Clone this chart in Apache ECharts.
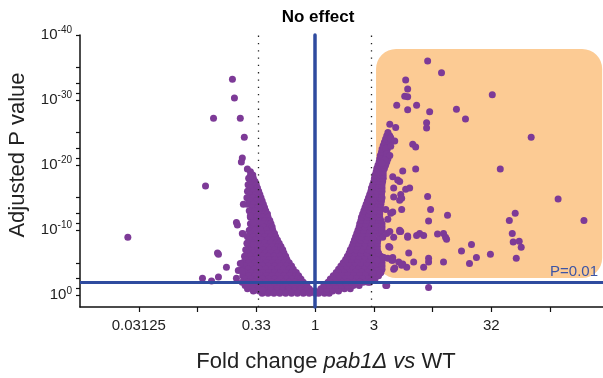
<!DOCTYPE html>
<html>
<head>
<meta charset="utf-8">
<script src="https://cdn.jsdelivr.net/npm/echarts@6/dist/echarts.min.js"></script>
<style>
html,body{margin:0;padding:0;background:#fff;}
#chart{width:603px;height:378px;}
</style>
</head>
<body>
<div id="chart"></div>
<script>
// x = log10(fold change pab1Δ vs WT), y = -log10(adjusted P value)
const leftArm = [
[-0.55,19],[-0.545,18.5],[-0.53,18.5],
[-0.565,18],[-0.525,18],[-0.55,17.5],[-0.51,17.5],
[-0.57,17],[-0.535,17],[-0.50,17],[-0.55,16.5],[-0.49,16.5],
[-0.575,16],[-0.525,16],[-0.48,16],[-0.555,15.5],[-0.505,15.5],[-0.47,15.5],
[-0.58,15],[-0.53,15],[-0.48,15],[-0.46,15],[-0.55,14.5],[-0.50,14.5],[-0.45,14.5],
[-0.575,14],[-0.525,14],[-0.475,14],[-0.44,14],[-0.535,13.5],[-0.485,13.5],[-0.43,13.5],
[-0.56,13],[-0.51,13],[-0.46,13],[-0.42,13],[-0.525,12.5],[-0.475,12.5],[-0.43,12.5],[-0.405,12.5],
[-0.55,12],[-0.50,12],[-0.45,12],[-0.40,12],[-0.525,11.5],[-0.475,11.5],[-0.425,11.5],[-0.385,11.5],
[-0.55,11],[-0.50,11],[-0.45,11],[-0.40,11],[-0.375,11],[-0.535,10.5],[-0.485,10.5],[-0.435,10.5],[-0.385,10.5],[-0.365,10.5],
[-0.56,10],[-0.51,10],[-0.46,10],[-0.41,10],[-0.36,10],[-0.55,9.5],[-0.50,9.5],[-0.45,9.5],[-0.40,9.5],[-0.345,9.5],
[-0.575,9],[-0.525,9],[-0.475,9],[-0.425,9],[-0.375,9],[-0.335,9],
[-0.555,8.5],[-0.505,8.5],[-0.455,8.5],[-0.405,8.5],[-0.355,8.5],[-0.32,8.5],
[-0.58,8],[-0.53,8],[-0.48,8],[-0.43,8],[-0.38,8],[-0.33,8],[-0.305,8],
[-0.565,7.5],[-0.515,7.5],[-0.465,7.5],[-0.415,7.5],[-0.365,7.5],[-0.315,7.5],[-0.29,7.5],
[-0.59,7],[-0.54,7],[-0.49,7],[-0.44,7],[-0.39,7],[-0.34,7],[-0.29,7],[-0.275,7],
[-0.575,6.5],[-0.525,6.5],[-0.475,6.5],[-0.425,6.5],[-0.375,6.5],[-0.325,6.5],[-0.265,6.5],
[-0.60,6],[-0.55,6],[-0.50,6],[-0.45,6],[-0.40,6],[-0.35,6],[-0.30,6],[-0.25,6],
[-0.59,5.5],[-0.54,5.5],[-0.49,5.5],[-0.44,5.5],[-0.39,5.5],[-0.34,5.5],[-0.29,5.5],[-0.24,5.5],
[-0.615,5],[-0.565,5],[-0.515,5],[-0.465,5],[-0.415,5],[-0.365,5],[-0.315,5],[-0.265,5],[-0.22,5],
[-0.595,4.5],[-0.545,4.5],[-0.495,4.5],[-0.445,4.5],[-0.395,4.5],[-0.345,4.5],[-0.295,4.5],[-0.245,4.5],[-0.20,4.5],
[-0.62,4],[-0.57,4],[-0.52,4],[-0.47,4],[-0.42,4],[-0.37,4],[-0.32,4],[-0.27,4],[-0.22,4],[-0.185,4],
[-0.595,3.5],[-0.545,3.5],[-0.495,3.5],[-0.445,3.5],[-0.395,3.5],[-0.345,3.5],[-0.295,3.5],[-0.245,3.5],[-0.195,3.5],[-0.16,3.5],
[-0.615,3],[-0.565,3],[-0.515,3],[-0.465,3],[-0.415,3],[-0.365,3],[-0.315,3],[-0.265,3],[-0.215,3],[-0.165,3],[-0.14,3],
[-0.595,2.5],[-0.545,2.5],[-0.495,2.5],[-0.445,2.5],[-0.395,2.5],[-0.345,2.5],[-0.295,2.5],[-0.245,2.5],[-0.195,2.5],[-0.145,2.5],[-0.12,2.5],
[-0.62,2],[-0.57,2],[-0.52,2],[-0.47,2],[-0.42,2],[-0.37,2],[-0.32,2],[-0.27,2],[-0.22,2],[-0.17,2],[-0.12,2],[-0.10,2],
[-0.595,1.5],[-0.545,1.5],[-0.495,1.5],[-0.445,1.5],[-0.395,1.5],[-0.345,1.5],[-0.295,1.5],[-0.245,1.5],[-0.195,1.5],[-0.145,1.5],[-0.095,1.5],[-0.07,1.5],
[-0.575,1],[-0.525,1],[-0.475,1],[-0.425,1],[-0.375,1],[-0.325,1],[-0.275,1],[-0.225,1],[-0.175,1],[-0.125,1],[-0.075,1],[-0.05,1],
[-0.525,0.65],[-0.475,0.65],[-0.425,0.65],[-0.375,0.65],[-0.325,0.65],[-0.275,0.65],[-0.225,0.65],[-0.175,0.65],[-0.125,0.65],[-0.075,0.65],[-0.03,0.65],
[-0.45,0.3],[-0.40,0.3],[-0.35,0.3],[-0.30,0.3],[-0.25,0.3],[-0.20,0.3],[-0.15,0.3],[-0.10,0.3],[-0.05,0.3],[0,0.3]
];
const rightArm = [
[0.03,0.3],[0.08,0.3],[0.12,0.3],
[0.0,0.65],[0.05,0.65],[0.10,0.65],[0.15,0.65],[0.20,0.65],
[0.05,1],[0.10,1],[0.15,1],[0.20,1],[0.25,1],[0.30,1],
[0.075,1.5],[0.125,1.5],[0.175,1.5],[0.225,1.5],[0.275,1.5],[0.325,1.5],[0.375,1.5],
[0.11,2],[0.16,2],[0.21,2],[0.26,2],[0.31,2],[0.36,2],[0.41,2],[0.45,2],
[0.13,2.5],[0.18,2.5],[0.23,2.5],[0.28,2.5],[0.33,2.5],[0.38,2.5],[0.43,2.5],[0.48,2.5],[0.51,2.5],
[0.155,3],[0.205,3],[0.255,3],[0.305,3],[0.355,3],[0.405,3],[0.455,3],[0.505,3],[0.54,3],
[0.18,3.5],[0.23,3.5],[0.28,3.5],[0.33,3.5],[0.38,3.5],[0.43,3.5],[0.48,3.5],[0.53,3.5],[0.56,3.5],
[0.20,4],[0.25,4],[0.30,4],[0.35,4],[0.40,4],[0.45,4],[0.50,4],[0.55,4],[0.57,4],
[0.22,4.5],[0.27,4.5],[0.32,4.5],[0.37,4.5],[0.42,4.5],[0.47,4.5],[0.52,4.5],[0.57,4.5],
[0.24,5],[0.29,5],[0.34,5],[0.39,5],[0.44,5],[0.49,5],[0.54,5],[0.57,5],
[0.26,5.5],[0.31,5.5],[0.36,5.5],[0.41,5.5],[0.46,5.5],[0.51,5.5],[0.56,5.5],
[0.275,6],[0.325,6],[0.375,6],[0.425,6],[0.475,6],[0.525,6],[0.56,6],
[0.29,6.5],[0.34,6.5],[0.39,6.5],[0.44,6.5],[0.49,6.5],[0.54,6.5],
[0.30,7],[0.35,7],[0.40,7],[0.45,7],[0.50,7],[0.53,7],
[0.315,7.5],[0.365,7.5],[0.415,7.5],[0.465,7.5],[0.515,7.5],[0.53,7.5],
[0.325,8],[0.375,8],[0.425,8],[0.475,8],[0.53,8],
[0.335,8.5],[0.385,8.5],[0.435,8.5],[0.485,8.5],[0.535,8.5],
[0.345,9],[0.395,9],[0.445,9],[0.495,9],[0.55,9],
[0.355,9.5],[0.405,9.5],[0.455,9.5],[0.505,9.5],[0.555,9.5],
[0.365,10],[0.415,10],[0.465,10],[0.515,10],[0.57,10],
[0.375,10.5],[0.425,10.5],[0.475,10.5],[0.525,10.5],[0.57,10.5],
[0.38,11],[0.43,11],[0.48,11],[0.53,11],[0.57,11],
[0.39,11.5],[0.44,11.5],[0.49,11.5],[0.54,11.5],[0.56,11.5],
[0.395,12],[0.445,12],[0.495,12],[0.55,12],
[0.405,12.5],[0.455,12.5],[0.505,12.5],[0.55,12.5],
[0.415,13],[0.465,13],[0.515,13],[0.55,13],
[0.425,13.5],[0.475,13.5],[0.525,13.5],[0.555,13.5],
[0.435,14],[0.485,14],[0.535,14],[0.56,14],
[0.445,14.5],[0.495,14.5],[0.545,14.5],[0.565,14.5],
[0.455,15],[0.505,15],[0.555,15],[0.57,15],
[0.465,15.5],[0.515,15.5],[0.565,15.5],
[0.475,16],[0.525,16],[0.57,16],
[0.48,16.5],[0.53,16.5],[0.57,16.5],
[0.49,17],[0.54,17],[0.57,17],
[0.50,17.5],[0.545,17.5],[0.575,17.5],
[0.505,18],[0.555,18],[0.58,18],
[0.51,18.5],[0.555,18.5],[0.58,18.5],
[0.52,19],[0.56,19],[0.58,19],
[0.525,19.5],[0.57,19.5],[0.59,19.5],
[0.535,20],[0.585,20],[0.60,20],
[0.545,20.5],[0.59,20.5],[0.61,20.5],
[0.55,21],[0.60,21],[0.62,21],
[0.555,21.5],[0.60,21.5],
[0.565,22],[0.61,22],
[0.57,22.5],[0.615,22.5],
[0.58,23],[0.625,23],
[0.59,23.5],[0.63,23.5],
[0.60,24],[0.64,24],
[0.61,24.5],[0.635,24.5],
[0.62,25]
];
const leftOutliers = [
[-1.593,8.9],[-0.932,16.8],[-0.703,33.2],[-0.686,30.3],[-0.864,27.2],[-0.636,27.2],
[-0.602,24.3],[-0.619,21.1],[-0.627,20.5],[-0.576,19.4],[-0.551,18.3],[-0.61,14.0],
[-0.551,12.2],[-0.525,11.2],[-0.669,11.2],[-0.661,10.8],[-0.619,9.5],[-0.61,9.4],
[-0.568,8.0],[-0.525,7.8],[-0.83,6.5],[-0.822,6.3],[-0.636,4.9],[-0.754,4.3],
[-0.653,3.8],[-0.619,3.7],[-0.958,2.6],[-0.881,2.2],[-0.822,2.8],[-0.669,2.6],
[-0.593,1.8],[-0.576,1.4],[-0.449,0.8]
];
const rightOutliers = [
[0.958,36.0],[1.076,34.2],[0.771,33.1],[0.788,31.7],[0.763,30.6],[0.788,30.5],
[0.695,29.2],[0.864,29.2],[0.788,28.5],[0.975,28.2],[1.203,28.6],[1.280,27.1],
[0.949,26.5],[0.949,25.7],[0.636,26.3],[0.686,25.8],[0.644,24.2],[0.678,23.7],
[0.831,23.2],[0.856,22.8],[0.602,22.6],[0.644,22.9],[0.610,21.8],[0.636,21.5],
[0.593,20.8],[0.568,20.3],
[1.508,30.8],[1.839,24.3],[1.576,19.4],[2.068,14.8],[2.288,11.5],[1.703,12.6],
[1.653,11.5],[1.678,9.5],[1.686,8.2],[1.737,8.3],[1.754,7.4],[1.712,5.7],
[1.331,7.8],[1.246,6.8],[1.373,5.8],[1.314,4.9],[1.492,6.3],[1.093,5.1],
[1.127,12.3],[0.983,13.2],[0.966,11.4],[0.958,15.2],[1.042,9.4],[1.093,9.5],
[1.110,8.9],[1.119,8.6],[0.890,9.5],[0.864,9.2],[0.924,9.2],[0.788,9.1],
[0.729,9.8],[0.966,5.7],[0.966,5.1],[0.924,4.3],[0.839,5.1],[0.797,6.5],
[0.780,4.3],[0.746,4.8],[0.712,5.1],[0.661,5.8],[0.653,5.4],[0.669,4.0],
[0.585,5.8],[0.602,1.5],[0.966,1.2],[0.856,19.4],[0.746,19.1],[0.661,18.2],
[0.720,17.5],[0.771,16.3],[0.669,16.5],[0.729,15.5],[0.669,15.1],[0.737,14.9],
[0.737,13.2],[0.661,12.8],[0.602,13.2],[0.619,11.7],[0.720,9.8],[0.669,8.9],
[0.576,8.9],[0.627,7.5],[0.610,9.5],[0.636,9.8],[0.788,8.9],[0.805,16.5],
[0.703,17.7],[0.720,14.6],[0.644,12.6],[0.720,10.0],[0.636,7.4],[0.576,5.8],
[0.619,5.7],[0.661,5.4],[0.737,4.6],[0.678,4.2],[0.610,1.5],[0.525,3.8],
[0.551,3.4],[0.492,3.4],[0.466,2.0],[0.381,2.0],[0.525,5.4]
];
// axis ticks / labels
const xTickValues = [-1.5,-1,-0.5,0,0.5,1,1.5,2];
const xLabelValues = [-1.5,-0.5,0,0.5,1.5];
const xLabelTexts = ['0.03125','0.33','1','3','32'];
const yLabelValues = [0,10,20,30,40];
const yTickValues = [0,1.1,2.6,5,10,11.1,12.6,15,20,21.1,22.6,25,30,31.1,32.6,35,40];
// reference lines and highlighted region
const noEffectX = 0;
const foldCutoffs = [Math.log10(1/3), Math.log10(3)];
const pCutoff = 2; // -log10(0.01)
const upRegion = [[0.519, 2.66, 2.443, 37.85]]; // x1, y1, x2, y2

const FONT = '"Liberation Sans", Arial, sans-serif';
const PURPLE = '#7d3a97';
const BLUE = '#2f4b9f';

const chart = echarts.init(document.getElementById('chart'), null, {renderer:'canvas'});
chart.setOption({
  animation:false,
  backgroundColor:'#fff',
  textStyle:{fontFamily:FONT},
  grid:{left:80,right:0,top:35,bottom:71,containLabel:false},
  xAxis:{
    type:'value', min:-2, max:2.45,
    axisLine:{onZero:false,lineStyle:{color:'#111',width:1.5}},
    axisTick:{show:true,length:5,inside:false,customValues:xTickValues,lineStyle:{color:'#111',width:1.2}},
    axisLabel:{customValues:xLabelValues,margin:11,fontSize:15,color:'#222',fontFamily:FONT,
      formatter:(v)=>{const i=xLabelValues.indexOf(v);return i>=0?xLabelTexts[i]:'';}},
    splitLine:{show:false}
  },
  yAxis:{
    type:'value', min:-1.8, max:40,
    axisLine:{show:true,onZero:false,lineStyle:{color:'#111',width:1.5}},
    axisTick:{show:true,length:4,inside:false,customValues:yTickValues,lineStyle:{color:'#111',width:1.2}},
    axisLabel:{customValues:yLabelValues,margin:8,color:'#222',fontFamily:FONT,
      formatter:(v)=>'{b|10}{s|'+(v===0?'0':'-'+v)+'}',
      rich:{b:{fontSize:15,color:'#222',fontFamily:FONT},s:{fontSize:10,color:'#222',fontFamily:FONT,padding:[0,0,9,0]}}},
    splitLine:{show:false}
  },
  graphic:[
    {type:'text',x:318,y:17,style:{text:'No effect',fontSize:17,fontWeight:'bold',fontFamily:FONT,fill:'#000',align:'center',verticalAlign:'middle'}},
    {type:'text',x:598,y:279,z:100,style:{text:'P=0.01',fontSize:15,fontFamily:FONT,fill:'#3d55a5',align:'right',verticalAlign:'bottom'}},
    {type:'text',x:326,y:362,style:{text:'{n|Fold change }{i|pab1Δ}{n| }{i|vs}{n| WT}',
      rich:{n:{fontSize:22,fontFamily:FONT,fill:'#222'},i:{fontSize:22,fontFamily:FONT,fontStyle:'italic',fill:'#222'}},
      align:'center',verticalAlign:'middle'}},
    {type:'text',x:18,y:155,rotation:Math.PI/2,style:{text:'Adjusted P value',fontSize:22,fontFamily:FONT,fill:'#222',align:'center',verticalAlign:'middle'}}
  ],
  series:[
    {type:'custom',z:1,silent:true,data:upRegion,
      renderItem:(params,api)=>{
        const p1=api.coord([api.value(0),api.value(3)]);
        const p2=api.coord([api.value(2),api.value(1)]);
        return {type:'rect',shape:{x:p1[0],y:p1[1],width:p2[0]-p1[0],height:p2[1]-p1[1],r:20},style:{fill:'#fccb94'}};
      }},
    {type:'scatter',z:2,data:[],silent:true,
      markLine:{silent:true,symbol:'none',label:{show:false},
        lineStyle:{color:BLUE,width:3,type:'solid'},
        data:[{yAxis:pCutoff}]}},
    {type:'scatter',z:3,symbolSize:7,itemStyle:{color:PURPLE,opacity:1},silent:true,
      data:leftArm.concat(rightArm,leftOutliers,rightOutliers)},
    {type:'scatter',z:4,data:[],silent:true,
      markLine:{silent:true,symbol:'none',label:{show:false},
        data:[
          {xAxis:foldCutoffs[0],lineStyle:{color:'#222',width:1.3,type:[1.3,6]}},
          {xAxis:foldCutoffs[1],lineStyle:{color:'#222',width:1.3,type:[1.3,6]}},
          {xAxis:noEffectX,lineStyle:{color:BLUE,width:3.5,type:'solid',cap:'round'}}
        ]}}
  ]
});
</script>
</body>
</html>
